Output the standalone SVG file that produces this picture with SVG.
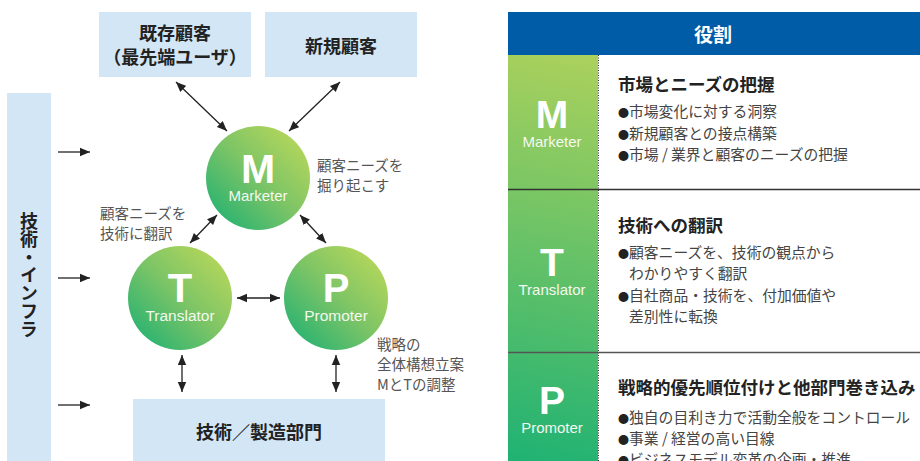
<svg xmlns="http://www.w3.org/2000/svg" width="920" height="461" viewBox="0 0 920 461">
<style>
.box{fill:#d3e6f6}
.bt{font-family:"Noto Sans CJK JP","Liberation Sans",sans-serif;font-weight:700;font-size:18px;fill:#222;text-anchor:middle}
.ann{font-family:"Noto Sans CJK JP","Liberation Sans",sans-serif;font-size:14.5px;fill:#555}
.big{font-family:"Liberation Sans","Noto Sans",sans-serif;font-weight:700;fill:#fff;text-anchor:middle}
.sub{font-family:"Liberation Sans","Noto Sans",sans-serif;fill:#f4f8ef;text-anchor:middle}
.ttl{font-family:"Noto Sans CJK JP","Liberation Sans",sans-serif;font-weight:700;font-size:17.5px;fill:#222}
.bl{font-family:"Noto Sans CJK JP","Liberation Sans",sans-serif;font-size:14.8px;fill:#444}
.dot{font-size:11px;fill:#222}
.con{stroke:#222;stroke-width:1.3;fill:none}
</style>
<defs>
<linearGradient id="cg" x1="1" y1="0" x2="0" y2="1">
<stop offset="0" stop-color="#c4db58"/>
<stop offset="0.5" stop-color="#7cc466"/>
<stop offset="1" stop-color="#13ae74"/>
</linearGradient>
<linearGradient id="colg" gradientUnits="userSpaceOnUse" x1="598" y1="55" x2="508" y2="461">
<stop offset="0" stop-color="#acd15c"/>
<stop offset="1" stop-color="#1fb273"/>
</linearGradient>
<marker id="ah" viewBox="0 0 10 10" refX="10" refY="5" markerWidth="10" markerHeight="10" markerUnits="userSpaceOnUse" orient="auto-start-reverse">
<path d="M0,0.8 L10,5 L0,9.2 Z" fill="#222"/>
</marker>
</defs>

<g id="existing-customers">
<rect class="box" x="99" y="12" width="152" height="65"/>
<text class="bt" x="175" y="40">既存顧客</text>
<text class="bt" x="175" y="64">（最先端ユーザ）</text>
</g>
<g id="new-customers">
<rect class="box" x="265" y="12" width="152" height="65"/>
<text class="bt" x="341" y="53">新規顧客</text>
</g>
<g id="tech-infra">
<rect class="box" x="7" y="93" width="44" height="368"/>
<text class="bt" x="29" y="275" style="writing-mode:vertical-rl" font-size="17">技術・インフラ</text>
</g>
<g id="tech-manufacturing">
<rect class="box" x="133" y="399" width="252" height="62"/>
<text class="bt" x="259" y="439">技術／製造部門</text>
</g>

<g id="marketer">
<circle cx="258" cy="178" r="52" fill="url(#cg)"/>
<text class="big" x="258" y="183" font-size="41">M</text>
<text class="sub" x="258" y="201" font-size="15">Marketer</text>
</g>
<g id="translator">
<circle cx="180" cy="298" r="52" fill="url(#cg)"/>
<text class="big" x="180" y="302" font-size="40">T</text>
<text class="sub" x="180" y="321" font-size="15.5">Translator</text>
</g>
<g id="promoter">
<circle cx="336" cy="298" r="52" fill="url(#cg)"/>
<text class="big" x="336" y="302" font-size="40">P</text>
<text class="sub" x="336" y="321" font-size="15.5">Promoter</text>
</g>

<g id="annotations">
<text class="ann" x="317" y="171">顧客ニーズを</text>
<text class="ann" x="317" y="191">掘り起こす</text>
<text class="ann" x="100" y="219">顧客ニーズを</text>
<text class="ann" x="100" y="239">技術に翻訳</text>
<text class="ann" x="377" y="350">戦略の</text>
<text class="ann" x="377" y="370">全体構想立案</text>
<text class="ann" x="377" y="390">MとTの調整</text>
</g>

<g id="connectors">
<line class="con" x1="176" y1="82" x2="227" y2="131" marker-start="url(#ah)" marker-end="url(#ah)"/>
<line class="con" x1="340" y1="82" x2="289" y2="131" marker-start="url(#ah)" marker-end="url(#ah)"/>
<line class="con" x1="190" y1="243" x2="217" y2="215" marker-start="url(#ah)" marker-end="url(#ah)"/>
<line class="con" x1="300" y1="215" x2="326" y2="243" marker-start="url(#ah)" marker-end="url(#ah)"/>
<line class="con" x1="237" y1="298" x2="280" y2="298" marker-start="url(#ah)" marker-end="url(#ah)"/>
<line class="con" x1="182" y1="355" x2="182" y2="392" marker-start="url(#ah)" marker-end="url(#ah)"/>
<line class="con" x1="336" y1="355" x2="336" y2="392" marker-start="url(#ah)" marker-end="url(#ah)"/>
<line class="con" x1="58" y1="152" x2="90" y2="152" marker-end="url(#ah)"/>
<line class="con" x1="58" y1="278" x2="90" y2="278" marker-end="url(#ah)"/>
<line class="con" x1="58" y1="405" x2="90" y2="405" marker-end="url(#ah)"/>
</g>

<g id="roles-table">
<rect x="508" y="12" width="412" height="43" fill="#005ca6"/>
<text x="713" y="42" font-family="Noto Sans CJK JP, sans-serif" font-weight="700" font-size="19" fill="#fff" text-anchor="middle">役割</text>
<rect x="508" y="55" width="90" height="406" fill="url(#colg)"/>
<line x1="598.5" y1="55" x2="598.5" y2="461" stroke="#333" stroke-width="1" stroke-dasharray="1,1.5"/>
<line x1="508" y1="189.5" x2="920" y2="189.5" stroke="#333" stroke-width="1.3"/>
<line x1="508" y1="352.5" x2="920" y2="352.5" stroke="#555" stroke-width="1.3"/>
</g>

<g id="role-m">
<text class="big" x="552" y="128" font-size="39">M</text>
<text class="sub" x="552" y="147" font-size="15">Marketer</text>
<text class="ttl" x="618" y="91">市場とニーズの把握</text>
<text class="bl" x="618" y="117"><tspan class="dot">●</tspan><tspan x="629">市場変化に対する洞察</tspan></text>
<text class="bl" x="618" y="139"><tspan class="dot">●</tspan><tspan x="629">新規顧客との接点構築</tspan></text>
<text class="bl" x="618" y="160"><tspan class="dot">●</tspan><tspan x="629">市場 / 業界と顧客のニーズの把握</tspan></text>
</g>
<g id="role-t">
<text class="big" x="552" y="276" font-size="39">T</text>
<text class="sub" x="552" y="295" font-size="15">Translator</text>
<text class="ttl" x="618" y="232">技術への翻訳</text>
<text class="bl" x="618" y="258"><tspan class="dot">●</tspan><tspan x="629">顧客ニーズを、技術の観点から</tspan></text>
<text class="bl" x="629" y="279">わかりやすく翻訳</text>
<text class="bl" x="618" y="301"><tspan class="dot">●</tspan><tspan x="629">自社商品・技術を、付加価値や</tspan></text>
<text class="bl" x="629" y="322">差別性に転換</text>
</g>
<g id="role-p">
<text class="big" x="552" y="414" font-size="39">P</text>
<text class="sub" x="552" y="433" font-size="15">Promoter</text>
<text class="ttl" x="618" y="394">戦略的優先順位付けと他部門巻き込み</text>
<text class="bl" x="618" y="423"><tspan class="dot">●</tspan><tspan x="629">独自の目利き力で活動全般をコントロール</tspan></text>
<text class="bl" x="618" y="444"><tspan class="dot">●</tspan><tspan x="629">事業 / 経営の高い目線</tspan></text>
<text class="bl" x="618" y="465"><tspan class="dot">●</tspan><tspan x="629">ビジネスモデル変革の企画・推進</tspan></text>
</g>
</svg>
